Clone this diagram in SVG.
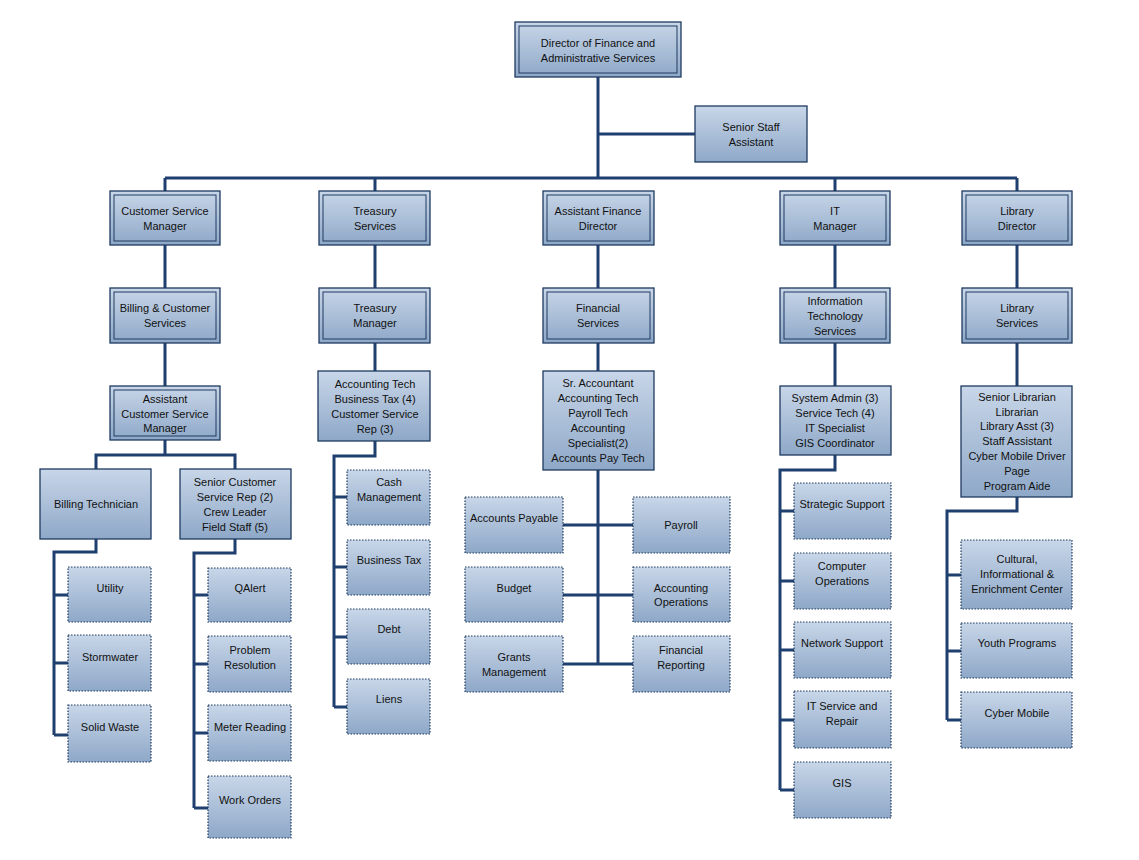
<svg xmlns="http://www.w3.org/2000/svg" width="1139" height="860" viewBox="0 0 1139 860">
<defs>
<linearGradient id="g" x1="0" y1="0" x2="0" y2="1"><stop offset="0" stop-color="#c8d6e8"/><stop offset="1" stop-color="#8ea8c8"/></linearGradient>
<style>
rect.b{fill:url(#g);stroke:#1f3a60;stroke-width:1.3}
rect.i{fill:none;stroke:#1f3a60;stroke-width:1}
rect.d{fill:url(#g);stroke:#1f3a60;stroke-width:1.2;stroke-dasharray:1.5 1.5}
text{font-family:"Liberation Sans",Arial,sans-serif;font-size:11px;fill:#111;text-anchor:middle}
#c path{fill:none;stroke:#1f3f6e;stroke-width:3}
</style>
</defs>
<rect width="1139" height="860" fill="#fff"/>
<g id="c">
<path d="M598 77V178M598 134H695M165 178H1017M165 178V191M375 178V191M1017 178V191M835 178V191"/>
<path d="M165 245V288M375 245V288M598 245V288M835 245V288M1017 245V288M165 343V386M375 343V371M598 343V371M835 343V386M1017 343V386"/>
<path d="M165 440V455M96 469V455H235V469"/>
<path d="M96 539V552H54V735M54 595H68M54 663H68M54 735H68"/>
<path d="M235 539V553H194V808M194 595H208M194 664H208M194 733H208M194 808H208"/>
<path d="M375 441V456H334V707M334 497H347M334 567H347M334 637H347M334 707H347"/>
<path d="M598 470V664M563 525H633M563 595H633M563 664H633"/>
<path d="M835 455V470H780V790M780 511H794M780 581H794M780 650H794M780 720H794M780 790H794"/>
<path d="M1017 497V511H947V720M947 575H961M947 651H961M947 720H961"/>
</g>
<g id="n-dir"><rect class="b" x="515" y="22" width="166" height="55"/><rect class="i" x="519" y="26" width="158" height="47"/><text x="598" y="47">Director of Finance and</text><text x="598" y="62">Administrative Services</text></g>
<g id="n-ssa"><rect class="b" x="695" y="106" width="112" height="56"/><text x="751" y="131">Senior Staff</text><text x="751" y="146">Assistant</text></g>
<g id="n-csm"><rect class="b" x="110" y="191" width="110" height="54"/><rect class="i" x="114" y="195" width="102" height="46"/><text x="165" y="215">Customer Service</text><text x="165" y="230">Manager</text></g>
<g id="n-ts"><rect class="b" x="319" y="191" width="111" height="54"/><rect class="i" x="323" y="195" width="103" height="46"/><text x="375" y="215">Treasury</text><text x="375" y="230">Services</text></g>
<g id="n-afd"><rect class="b" x="543" y="191" width="111" height="54"/><rect class="i" x="547" y="195" width="103" height="46"/><text x="598" y="215">Assistant Finance</text><text x="598" y="230">Director</text></g>
<g id="n-itm"><rect class="b" x="780" y="191" width="110" height="54"/><rect class="i" x="784" y="195" width="102" height="46"/><text x="835" y="215">IT</text><text x="835" y="230">Manager</text></g>
<g id="n-ld"><rect class="b" x="962" y="191" width="110" height="54"/><rect class="i" x="966" y="195" width="102" height="46"/><text x="1017" y="215">Library</text><text x="1017" y="230">Director</text></g>
<g id="n-bcs"><rect class="b" x="110" y="288" width="110" height="55"/><rect class="i" x="114" y="292" width="102" height="47"/><text x="165" y="312">Billing &amp; Customer</text><text x="165" y="327">Services</text></g>
<g id="n-tm"><rect class="b" x="319" y="288" width="111" height="55"/><rect class="i" x="323" y="292" width="103" height="47"/><text x="375" y="312">Treasury</text><text x="375" y="327">Manager</text></g>
<g id="n-fs"><rect class="b" x="543" y="288" width="111" height="55"/><rect class="i" x="547" y="292" width="103" height="47"/><text x="598" y="312">Financial</text><text x="598" y="327">Services</text></g>
<g id="n-its"><rect class="b" x="780" y="288" width="110" height="55"/><rect class="i" x="784" y="292" width="102" height="47"/><text x="835" y="305">Information</text><text x="835" y="320">Technology</text><text x="835" y="335">Services</text></g>
<g id="n-ls"><rect class="b" x="962" y="288" width="110" height="55"/><rect class="i" x="966" y="292" width="102" height="47"/><text x="1017" y="312">Library</text><text x="1017" y="327">Services</text></g>
<g id="n-acsm"><rect class="b" x="110" y="386" width="110" height="54"/><rect class="i" x="114" y="390" width="102" height="46"/><text x="165" y="403">Assistant</text><text x="165" y="418">Customer Service</text><text x="165" y="432">Manager</text></g>
<g id="n-at"><rect class="b" x="318" y="371" width="112" height="70"/><text x="375" y="388">Accounting Tech</text><text x="375" y="403">Business Tax (4)</text><text x="375" y="418">Customer Service</text><text x="375" y="433">Rep (3)</text></g>
<g id="n-sra"><rect class="b" x="543" y="371" width="111" height="99"/><text x="598" y="387">Sr. Accountant</text><text x="598" y="402">Accounting Tech</text><text x="598" y="417">Payroll Tech</text><text x="598" y="432">Accounting</text><text x="598" y="447">Specialist(2)</text><text x="598" y="462">Accounts Pay Tech</text></g>
<g id="n-sa"><rect class="b" x="780" y="386" width="111" height="69"/><text x="835" y="402">System Admin (3)</text><text x="835" y="417">Service Tech (4)</text><text x="835" y="432">IT Specialist</text><text x="835" y="447">GIS Coordinator</text></g>
<g id="n-sl"><rect class="b" x="961" y="386" width="111" height="111"/><text x="1017" y="401">Senior Librarian</text><text x="1017" y="416">Librarian</text><text x="1017" y="430">Library Asst (3)</text><text x="1017" y="445">Staff Assistant</text><text x="1017" y="460">Cyber Mobile Driver</text><text x="1017" y="475">Page</text><text x="1017" y="490">Program Aide</text></g>
<g id="n-bt"><rect class="b" x="40" y="469" width="111" height="70"/><text x="96" y="508">Billing Technician</text></g>
<g id="n-scs"><rect class="b" x="180" y="469" width="111" height="70"/><text x="235" y="486">Senior Customer</text><text x="235" y="501">Service Rep (2)</text><text x="235" y="516">Crew Leader</text><text x="235" y="531">Field Staff (5)</text></g>
<g id="n-util"><rect class="d" x="68" y="567" width="83" height="55"/><text x="110" y="592">Utility</text></g>
<g id="n-storm"><rect class="d" x="68" y="635" width="83" height="56"/><text x="110" y="661">Stormwater</text></g>
<g id="n-solid"><rect class="d" x="68" y="705" width="83" height="57"/><text x="110" y="731">Solid Waste</text></g>
<g id="n-qa"><rect class="d" x="208" y="568" width="83" height="54"/><text x="250" y="592">QAlert</text></g>
<g id="n-pr"><rect class="d" x="208" y="636" width="83" height="56"/><text x="250" y="654">Problem</text><text x="250" y="669">Resolution</text></g>
<g id="n-mr"><rect class="d" x="208" y="705" width="83" height="56"/><text x="250" y="731">Meter Reading</text></g>
<g id="n-wo"><rect class="d" x="208" y="776" width="83" height="62"/><text x="250" y="804">Work Orders</text></g>
<g id="n-cash"><rect class="d" x="347" y="470" width="83" height="55"/><text x="389" y="486">Cash</text><text x="389" y="501">Management</text></g>
<g id="n-btax"><rect class="d" x="347" y="540" width="83" height="55"/><text x="389" y="564">Business Tax</text></g>
<g id="n-debt"><rect class="d" x="347" y="609" width="83" height="55"/><text x="389" y="633">Debt</text></g>
<g id="n-liens"><rect class="d" x="347" y="679" width="83" height="55"/><text x="389" y="703">Liens</text></g>
<g id="n-ap"><rect class="d" x="465" y="497" width="98" height="56"/><text x="514" y="522">Accounts Payable</text></g>
<g id="n-bud"><rect class="d" x="465" y="567" width="98" height="55"/><text x="514" y="592">Budget</text></g>
<g id="n-gm"><rect class="d" x="465" y="636" width="98" height="56"/><text x="514" y="661">Grants</text><text x="514" y="676">Management</text></g>
<g id="n-pay"><rect class="d" x="633" y="497" width="97" height="56"/><text x="681" y="529">Payroll</text></g>
<g id="n-ao"><rect class="d" x="633" y="567" width="97" height="55"/><text x="681" y="592">Accounting</text><text x="681" y="606">Operations</text></g>
<g id="n-fr"><rect class="d" x="633" y="636" width="97" height="56"/><text x="681" y="654">Financial</text><text x="681" y="669">Reporting</text></g>
<g id="n-ss"><rect class="d" x="794" y="483" width="97" height="56"/><text x="842" y="508">Strategic Support</text></g>
<g id="n-co"><rect class="d" x="794" y="553" width="97" height="56"/><text x="842" y="570">Computer</text><text x="842" y="585">Operations</text></g>
<g id="n-ns"><rect class="d" x="794" y="622" width="97" height="56"/><text x="842" y="647">Network Support</text></g>
<g id="n-itsr"><rect class="d" x="794" y="691" width="97" height="57"/><text x="842" y="710">IT Service and</text><text x="842" y="725">Repair</text></g>
<g id="n-gis"><rect class="d" x="794" y="762" width="97" height="56"/><text x="842" y="787">GIS</text></g>
<g id="n-cult"><rect class="d" x="961" y="540" width="111" height="69"/><text x="1017" y="563">Cultural,</text><text x="1017" y="578">Informational &amp;</text><text x="1017" y="593">Enrichment Center</text></g>
<g id="n-youth"><rect class="d" x="961" y="623" width="111" height="55"/><text x="1017" y="647">Youth Programs</text></g>
<g id="n-cyber"><rect class="d" x="961" y="692" width="111" height="56"/><text x="1017" y="717">Cyber Mobile</text></g>
</svg>
